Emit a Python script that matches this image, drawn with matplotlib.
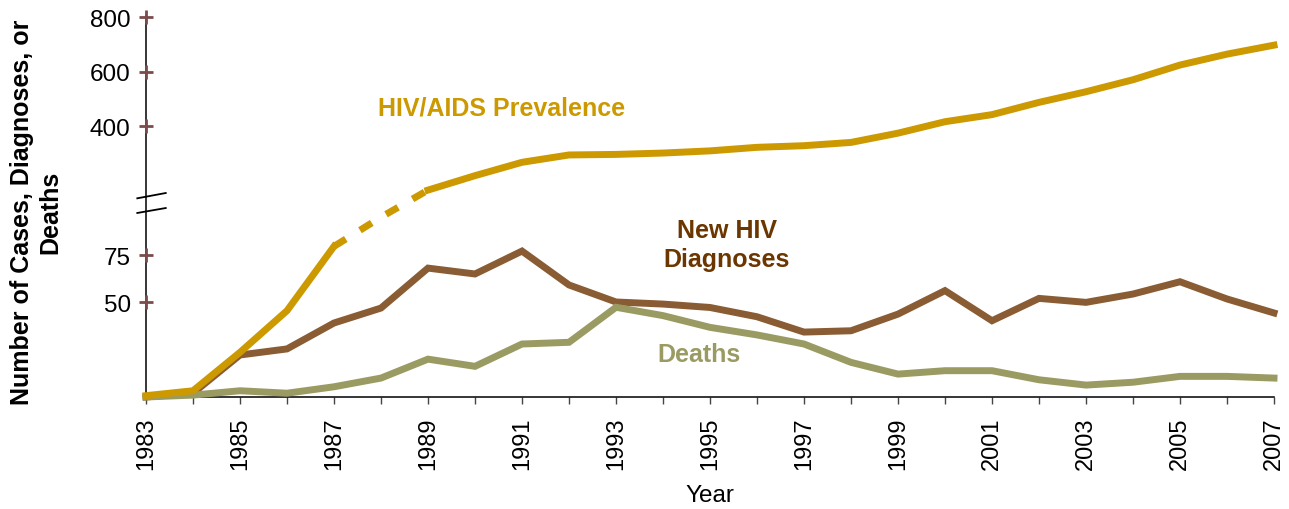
import numpy as np
import matplotlib
matplotlib.use("Agg")
import matplotlib.pyplot as plt

plt.rcParams['font.family'] = ['Liberation Sans', 'DejaVu Sans']

years = list(range(1983, 2008))
prevalence = [0.7, 3.3, 23.6, 45.6, 79.6, 95, 166, 219, 268, 295, 297, 302, 310,
              323, 329, 341, 375, 417, 443, 488, 527, 571, 625, 665, 698]
new_hiv = [0, 2, 22.2, 25.4, 39.1, 47.0, 68.1, 65.0, 77.1, 59.2, 50.2, 49.1, 47.3,
           42.4, 34.3, 35.0, 43.8, 56.2, 40.3, 52.1, 50.0, 54.4, 60.9, 51.8, 44.4]
deaths = [0, 1, 3.3, 2, 5.4, 10, 20, 16.2, 28, 28.9, 47.4, 43, 36.8,
          32.8, 28, 18.3, 12.1, 13.9, 13.9, 9.1, 6.3, 7.8, 10.9, 10.9, 10]
ytick_vals = [50, 75, 400, 600, 800]
ytick_labels = ['50', '75', '400', '600', '800']
xtick_labels = [str(y) if y % 2 == 1 else '' for y in years]

GOLD = '#CC9900'
BROWN = '#8A5C33'
BROWN_TXT = '#6B3600'
OLIVE = '#9A9B63'
MAROON = '#7B4B4B'

# broken axis: piecewise-linear scale
bv = [-1000, 0, 100, 120, 3000]
bh = [-1893, 0, 189.3, 194.4, 161.7 + 0.2725 * 3000]
def fwd(v):
    return np.interp(v, bv, bh)
def inv(h):
    return np.interp(h, bh, bv)

fig = plt.figure(figsize=(12.89, 5.10), dpi=100)
ax = fig.add_axes([146/1289, 112/510, 1128/1289, 381/510])
ax.set_yscale('function', functions=(fwd, inv))
ax.set_xlim(1983, 2007)
ax.set_ylim(0, 805)

lw = 5
ax.plot(years, new_hiv, color=BROWN, lw=lw, solid_joinstyle='miter', clip_on=False, zorder=3)
ax.plot(years, deaths, color=OLIVE, lw=lw, solid_joinstyle='miter', clip_on=False, zorder=4)
ax.plot(years[:5], prevalence[:5], color=GOLD, lw=lw, solid_joinstyle='miter', clip_on=False, zorder=5)
ax.plot(years[4:7], prevalence[4:7], color=GOLD, lw=lw, linestyle=(0, (2, 2.4)),
        dash_capstyle='butt', clip_on=False, zorder=5)
ax.plot(years[6:], prevalence[6:], color=GOLD, lw=lw, solid_joinstyle='miter', clip_on=False, zorder=5)

for s in ['top', 'right']:
    ax.spines[s].set_visible(False)
for s in ['left', 'bottom']:
    ax.spines[s].set_linewidth(1.1)
    ax.spines[s].set_color('black')

ax.set_xticks(years)
ax.set_xticklabels(xtick_labels, rotation=90, fontsize=17)
ax.tick_params(axis='x', direction='out', length=5, width=1, color='#444444', pad=9)

ax.set_yticks(ytick_vals)
ax.set_yticklabels(ytick_labels, fontsize=17.5)
ax.tick_params(axis='y', length=0, pad=11)
ax.plot([0] * len(ytick_vals), ytick_vals, linestyle='none', marker='+', markersize=10.5,
        mew=2.0, color=MAROON, transform=ax.get_yaxis_transform(), clip_on=False, zorder=6)

# break marks
kw = dict(transform=ax.transAxes, color='black', lw=1.3, clip_on=False, zorder=7)
ax.plot([-0.0077, 0.0175], [0.5215, 0.5354], **kw)
ax.plot([-0.0077, 0.0175], [0.483, 0.496], **kw)

fig.text(710/1289, 1 - 496/510, 'Year', ha='center', va='center', fontsize=17.5)
fig.text(36/1289, 1 - 212/510, 'Number of Cases, Diagnoses, or\nDeaths', rotation=90,
         ha='center', va='center', fontsize=18, fontweight='bold', multialignment='center')

ax.text(1990.57, 470.8, 'HIV/AIDS Prevalence', color=GOLD, fontsize=18, fontweight='bold',
        ha='center', va='center')
ax.text(1995.36, 80.6, 'New HIV\nDiagnoses', color=BROWN_TXT, fontsize=18, fontweight='bold',
        ha='center', va='center', linespacing=1.3)
ax.text(1994.77, 22.7, 'Deaths', color=OLIVE, fontsize=18, fontweight='bold',
        ha='center', va='center')

fig.savefig('out.png', dpi=100)
